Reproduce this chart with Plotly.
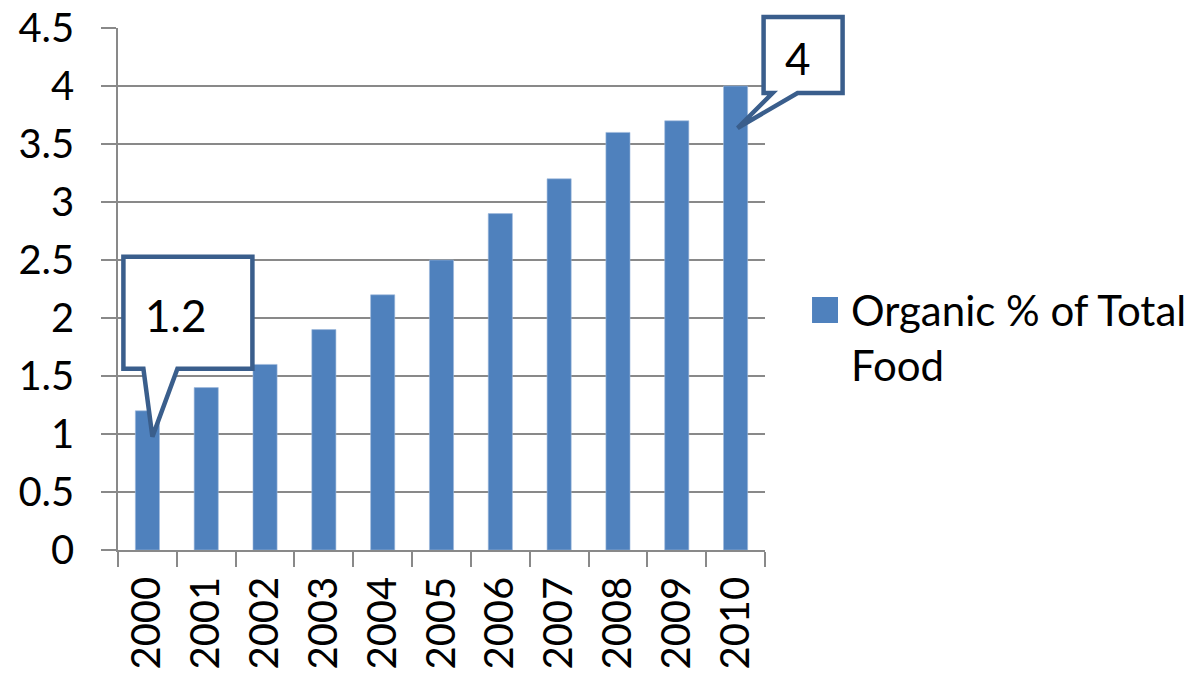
import plotly.graph_objects as go

# Share of organic food in total food sales, by year
years = ["2000", "2001", "2002", "2003", "2004", "2005",
         "2006", "2007", "2008", "2009", "2010"]
organic_share = [1.2, 1.4, 1.6, 1.9, 2.2, 2.5, 2.9, 3.2, 3.6, 3.7, 4.0]
series_name = "Organic % of Total Food"
y_ticks = [0, 0.5, 1, 1.5, 2, 2.5, 3, 3.5, 4, 4.5]

# Data points that get a callout label
callout_years = ["2000", "2010"]

FONT = "Lato"
BAR_BLUE = "#4F81BD"
CALLOUT_LINE = "#3A5E8C"
GRID = "#898989"

X_RANGE = [-0.5, len(years) - 0.5]
Y_RANGE = [y_ticks[0], y_ticks[-1]]

fig = go.Figure()
fig.add_trace(go.Bar(
    x=years,
    y=organic_share,
    name=series_name,
    marker=dict(color=BAR_BLUE, line=dict(color="#9DB9DC", width=0.6)),
    showlegend=False,
))

# Callout outlines in pixels, relative to the top-centre of the bar
# (y pointing up): rectangle with a wedge-shaped tail ending inside the bar.
callout_paths = {
    "2000": "M -24,42 L -24,154 L 105,154 L 105,42 L 30,42 L 5,-26 L -4,42 Z",
    "2010": "M 28,-7 L 28,69 L 107,69 L 107,-7 L 62,-7 L 2,-42 L 37,-7 Z",
}
# Centre of the value text inside each callout, same pixel frame
callout_text_pos = {"2000": (28, 96), "2010": (62, 28)}

for yr in callout_years:
    i = years.index(yr)
    v = organic_share[i]
    fig.add_shape(
        type="path",
        xref="x domain", yref="y domain",
        xsizemode="pixel", ysizemode="pixel",
        xanchor=(i - X_RANGE[0]) / (X_RANGE[1] - X_RANGE[0]),
        yanchor=(v - Y_RANGE[0]) / (Y_RANGE[1] - Y_RANGE[0]),
        path=callout_paths[yr],
        fillcolor="white",
        line=dict(color=CALLOUT_LINE, width=4.5),
        layer="above",
    )
    # value text; category axes take the category's serial number here
    cx, cy = callout_text_pos[yr]
    fig.add_annotation(
        x=i, y=v, xref="x", yref="y",
        text=f"{v:g}", showarrow=False,
        xshift=cx, yshift=cy,
        font=dict(family=FONT, size=44, color="black"),
    )

# Legend entry: swatch plus wrapped series name, right of the plot area
fig.add_shape(
    type="rect", xref="paper", yref="paper",
    x0=1.0727, x1=1.1128, y0=0.4349, y1=0.4847,
    fillcolor=BAR_BLUE, line=dict(width=0),
)
fig.add_annotation(
    xref="paper", yref="paper", x=1.130, y=0.408,
    xanchor="left", yanchor="middle", align="left",
    text=series_name.replace(" Total ", " Total<br>"),
    showarrow=False,
    font=dict(family=FONT, size=42, color="black"),
)

fig.update_layout(
    width=1203, height=677,
    margin=dict(l=118, r=438, t=28, b=127),
    paper_bgcolor="white", plot_bgcolor="white",
    bargap=0.59,
    font=dict(family=FONT, size=40, color="black"),
)
fig.update_xaxes(
    type="category", range=X_RANGE, automargin=False,
    showline=True, linecolor=GRID, linewidth=1.5,
    ticks="outside", tickson="boundaries", ticklen=15,
    tickcolor=GRID, tickwidth=1.5,
    tickangle=-90, ticklabelstandoff=9,
    showgrid=False,
    tickfont=dict(family=FONT, size=40, color="black"),
)
fig.update_yaxes(
    range=Y_RANGE, tickvals=y_ticks, automargin=False,
    showline=True, linecolor=GRID, linewidth=1.5,
    ticks="outside", ticklen=15, tickcolor=GRID, tickwidth=1.5,
    ticklabelstandoff=19,
    showgrid=True, gridcolor=GRID, gridwidth=1.5,
    zeroline=False,
    tickfont=dict(family=FONT, size=40, color="black"),
)

fig.write_html("out.html")
